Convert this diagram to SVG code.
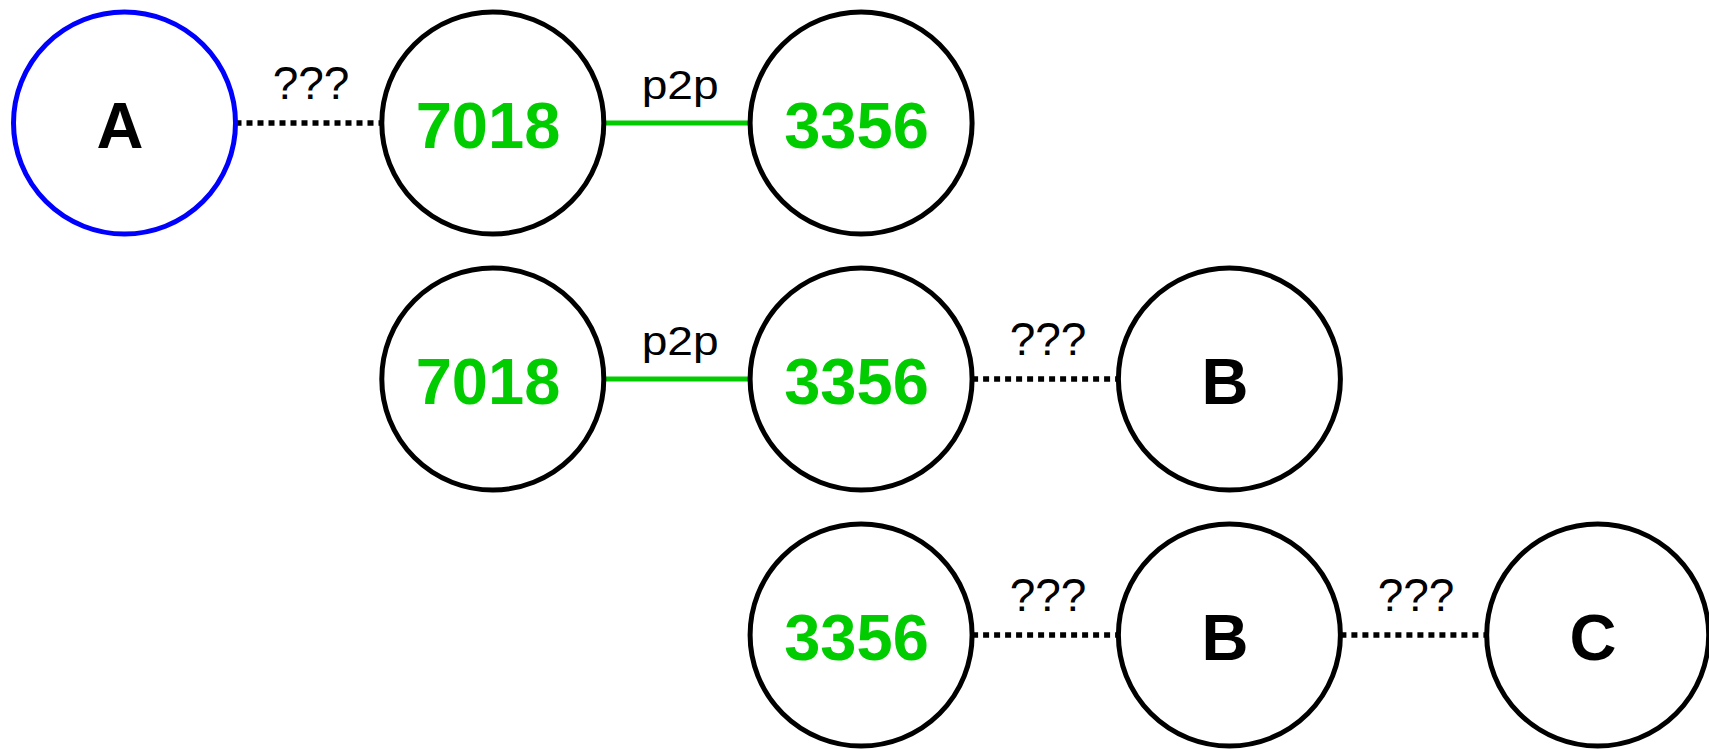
<svg xmlns="http://www.w3.org/2000/svg" width="1709" height="749" viewBox="0 0 1709 749">
<style>
.node{fill:#ffffff;stroke:#000000;stroke-width:5}
.blue{stroke:#0000ff}
.lbl{font-family:"Liberation Sans",Arial,sans-serif;font-weight:bold;font-size:65px;text-anchor:middle;fill:#000000}
.grn{fill:#00cc00}
.q{font-family:"Liberation Sans",Arial,sans-serif;font-size:46px;text-anchor:middle;fill:#000000}
.p{font-family:"Liberation Sans",Arial,sans-serif;font-size:40px;fill:#000000}
.dot{stroke:#000000;stroke-width:5.5;stroke-dasharray:6 5;fill:none}
.g{stroke:#00cc00;stroke-width:5;fill:none}
</style>
<rect width="1709" height="749" fill="#ffffff"/>
<g id="connectors">
<line class="dot" x1="235.5" y1="123" x2="381.8" y2="123"/>
<text class="q" x="311" y="99">???</text>
<line class="g" x1="603.8" y1="123" x2="750.1" y2="123"/>
<text class="p" x="641.7" y="99" textLength="77" lengthAdjust="spacingAndGlyphs">p2p</text>
<line class="g" x1="603.8" y1="379" x2="750.1" y2="379"/>
<text class="p" x="641.7" y="355" textLength="77" lengthAdjust="spacingAndGlyphs">p2p</text>
<line class="dot" x1="972.1" y1="379" x2="1118.4" y2="379"/>
<text class="q" x="1048" y="355">???</text>
<line class="dot" x1="972.1" y1="635" x2="1118.4" y2="635"/>
<text class="q" x="1048" y="611">???</text>
<line class="dot" x1="1340.4" y1="635" x2="1486.7" y2="635"/>
<text class="q" x="1416" y="611">???</text>
</g>
<g id="n-A"><circle class="node blue" cx="124.5" cy="123" r="111"/><text class="lbl" x="120" y="148">A</text></g>
<g id="n-7018-1"><circle class="node" cx="492.8" cy="123" r="111"/><text class="lbl grn" x="488" y="148">7018</text></g>
<g id="n-3356-1"><circle class="node" cx="861.1" cy="123" r="111"/><text class="lbl grn" x="856.5" y="148">3356</text></g>
<g id="n-7018-2"><circle class="node" cx="492.8" cy="379" r="111"/><text class="lbl grn" x="488" y="404">7018</text></g>
<g id="n-3356-2"><circle class="node" cx="861.1" cy="379" r="111"/><text class="lbl grn" x="856.5" y="404">3356</text></g>
<g id="n-B-2"><circle class="node" cx="1229.4" cy="379" r="111"/><text class="lbl" x="1225" y="404">B</text></g>
<g id="n-3356-3"><circle class="node" cx="861.1" cy="635" r="111"/><text class="lbl grn" x="856.5" y="660">3356</text></g>
<g id="n-B-3"><circle class="node" cx="1229.4" cy="635" r="111"/><text class="lbl" x="1225" y="660">B</text></g>
<g id="n-C"><circle class="node" cx="1597.7" cy="635" r="111"/><text class="lbl" x="1593" y="660">C</text></g>
</svg>
